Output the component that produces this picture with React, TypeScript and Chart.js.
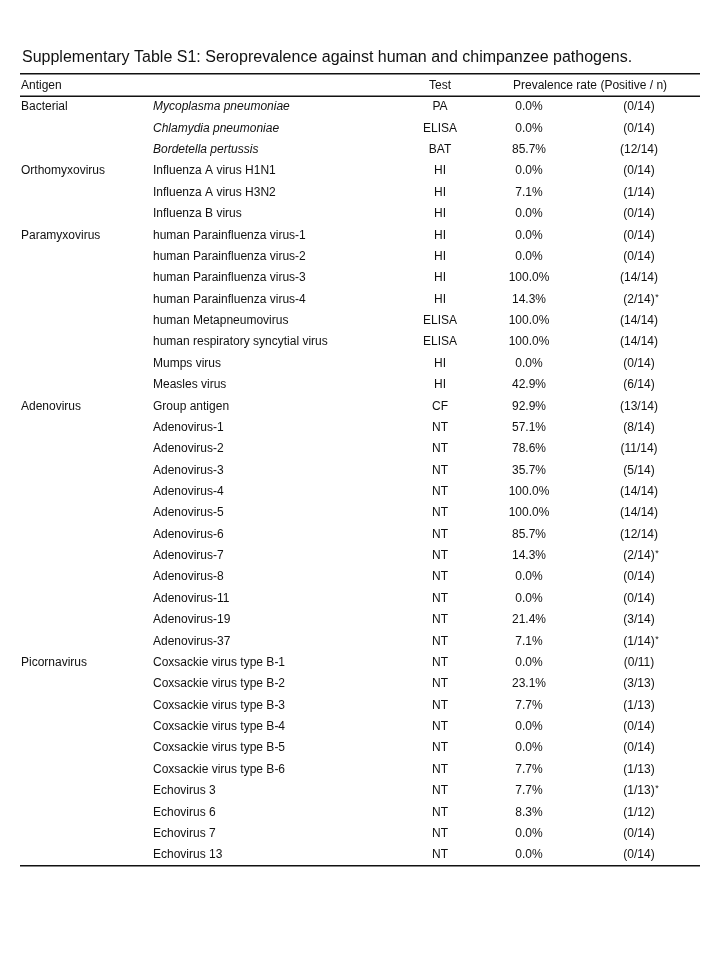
import React, { useEffect, useRef } from "react";
import { Chart, registerables } from "chart.js";

Chart.register(...registerables);

const titleText =
  "Supplementary Table S1: Seroprevalence against human and chimpanzee pathogens.";
const headerLabels = ["Antigen", "Test", "Prevalence rate (Positive / n)"];

const groups = [
  "Bacterial", "", "",
  "Orthomyxovirus", "", "",
  "Paramyxovirus", "", "", "", "", "", "", "",
  "Adenovirus", "", "", "", "", "", "", "", "", "", "", "",
  "Picornavirus", "", "", "", "", "", "", "", "", "",
];

const antigens = [
  "Mycoplasma pneumoniae",
  "Chlamydia pneumoniae",
  "Bordetella pertussis",
  "Influenza A virus H1N1",
  "Influenza A virus H3N2",
  "Influenza B virus",
  "human Parainfluenza virus-1",
  "human Parainfluenza virus-2",
  "human Parainfluenza virus-3",
  "human Parainfluenza virus-4",
  "human Metapneumovirus",
  "human respiratory syncytial virus",
  "Mumps virus",
  "Measles virus",
  "Group antigen",
  "Adenovirus-1",
  "Adenovirus-2",
  "Adenovirus-3",
  "Adenovirus-4",
  "Adenovirus-5",
  "Adenovirus-6",
  "Adenovirus-7",
  "Adenovirus-8",
  "Adenovirus-11",
  "Adenovirus-19",
  "Adenovirus-37",
  "Coxsackie virus type B-1",
  "Coxsackie virus type B-2",
  "Coxsackie virus type B-3",
  "Coxsackie virus type B-4",
  "Coxsackie virus type B-5",
  "Coxsackie virus type B-6",
  "Echovirus 3",
  "Echovirus 6",
  "Echovirus 7",
  "Echovirus 13",
];

const italicNames = [
  true, true, true,
  false, false, false, false, false, false, false, false, false, false, false,
  false, false, false, false, false, false, false, false, false, false, false, false,
  false, false, false, false, false, false, false, false, false, false,
];

const tests = [
  "PA", "ELISA", "BAT",
  "HI", "HI", "HI",
  "HI", "HI", "HI", "HI", "ELISA", "ELISA", "HI", "HI",
  "CF", "NT", "NT", "NT", "NT", "NT", "NT", "NT", "NT", "NT", "NT", "NT",
  "NT", "NT", "NT", "NT", "NT", "NT", "NT", "NT", "NT", "NT",
];

const rates = [
  0.0, 0.0, 85.7,
  0.0, 7.1, 0.0,
  0.0, 0.0, 100.0, 14.3, 100.0, 100.0, 0.0, 42.9,
  92.9, 57.1, 78.6, 35.7, 100.0, 100.0, 85.7, 14.3, 0.0, 0.0, 21.4, 7.1,
  0.0, 23.1, 7.7, 0.0, 0.0, 7.7, 7.7, 8.3, 0.0, 0.0,
];

const positives = [
  0, 0, 12,
  0, 1, 0,
  0, 0, 14, 2, 14, 14, 0, 6,
  13, 8, 11, 5, 14, 14, 12, 2, 0, 0, 3, 1,
  0, 3, 1, 0, 0, 1, 1, 1, 0, 0,
];

const totals = [
  14, 14, 14,
  14, 14, 14,
  14, 14, 14, 14, 14, 14, 14, 14,
  14, 14, 14, 14, 14, 14, 14, 14, 14, 14, 14, 14,
  11, 13, 13, 14, 14, 13, 13, 12, 14, 14,
];

const footnoteMarks = [
  false, false, false,
  false, false, false,
  false, false, false, true, false, false, false, false,
  false, false, false, false, false, false, false, true, false, false, false, true,
  false, false, false, false, false, false, true, false, false, false,
];

const FONT = "'Liberation Sans', Arial, Helvetica, sans-serif";
const TEXT_COLOR = "#111111";

// Column anchor positions (layout, in x-scale units == pixels)
const COL_GROUP = 21;
const COL_ANTIGEN = 153;
const COL_TEST = 440;
const COL_RATE = 529;
const COL_RATIO = 639;
const COL_HEAD_PREV = 513;

type ColDef = {
  x: number;
  align: CanvasTextAlign;
  text: (i: number) => string;
  italic?: (i: number) => boolean;
  mark?: (i: number) => boolean;
};

const columns: ColDef[] = [
  { x: COL_GROUP, align: "left", text: (i) => groups[i] },
  { x: COL_ANTIGEN, align: "left", text: (i) => antigens[i], italic: (i) => italicNames[i] },
  { x: COL_TEST, align: "center", text: (i) => tests[i] },
  { x: COL_RATE, align: "center", text: (i) => rates[i].toFixed(1) + "%" },
  {
    x: COL_RATIO,
    align: "center",
    text: (i) => "(" + positives[i] + "/" + totals[i] + ")",
    mark: (i) => footnoteMarks[i],
  },
];

const tablePlugin = {
  id: "tableText",
  afterDatasetsDraw(chart: any) {
    const ctx: CanvasRenderingContext2D = chart.ctx;
    const area = chart.chartArea;
    const yScale = chart.scales.y;
    const xScale = chart.scales.x;
    const rowH = yScale.getPixelForValue(1) - yScale.getPixelForValue(0);
    ctx.save();
    ctx.fillStyle = TEXT_COLOR;
    ctx.textBaseline = "middle";

    // cells
    chart.data.datasets.forEach((ds: any, di: number) => {
      const col = columns[di];
      const meta = chart.getDatasetMeta(di);
      meta.data.forEach((el: any, i: number) => {
        const txt = col.text(i);
        if (!txt) return;
        const it = col.italic ? col.italic(i) : false;
        ctx.font = (it ? "italic " : "") + "12px " + FONT;
        ctx.textAlign = col.align;
        ctx.fillText(txt, el.x, el.y);
        if (col.mark && col.mark(i)) {
          const w = ctx.measureText(txt).width;
          ctx.font = "9px " + FONT;
          ctx.textAlign = "left";
          ctx.fillText("*", el.x + w / 2 + 0.5, el.y - 2);
        }
      });
    });

    // header row
    const headY = yScale.getPixelForValue(0) - rowH;
    ctx.font = "12px " + FONT;
    ctx.textAlign = "left";
    ctx.fillText(headerLabels[0], xScale.getPixelForValue(COL_GROUP), headY);
    ctx.textAlign = "center";
    ctx.fillText(headerLabels[1], xScale.getPixelForValue(COL_TEST), headY);
    ctx.textAlign = "left";
    ctx.fillText(headerLabels[2], xScale.getPixelForValue(COL_HEAD_PREV), headY);

    // rules
    ctx.strokeStyle = "#111111";
    ctx.lineWidth = 1.5;
    const left = xScale.getPixelForValue(20);
    const right = xScale.getPixelForValue(700);
    const rules = [area.top - 22.5, area.top, area.bottom];
    rules.forEach((y) => {
      ctx.beginPath();
      ctx.moveTo(left, y);
      ctx.lineTo(right, y);
      ctx.stroke();
    });
    ctx.restore();
  },
};

export default function App() {
  const canvasRef = useRef<HTMLCanvasElement | null>(null);

  useEffect(() => {
    document.body.style.margin = "0";
    const canvas = canvasRef.current;
    if (!canvas) return;
    const chart = new Chart(canvas, {
      type: "scatter",
      data: {
        datasets: columns.map((col, di) => ({
          label: "col" + di,
          data: antigens.map((_, i) => ({ x: col.x, y: i })),
          pointRadius: 0,
          pointHoverRadius: 0,
          showLine: false,
        })),
      },
      options: {
        animation: false,
        responsive: false,
        devicePixelRatio: 1,
        layout: { padding: { top: 0, left: 22, right: 20, bottom: 94.3 } },
        scales: {
          x: { type: "linear", min: 22, max: 700, display: false },
          y: {
            type: "category",
            labels: antigens,
            offset: true,
            display: false,
          },
        },
        plugins: {
          legend: { display: false },
          tooltip: { enabled: false },
          title: {
            display: true,
            text: titleText,
            align: "start",
            color: TEXT_COLOR,
            font: { family: FONT, size: 16, weight: "normal", lineHeight: 1.2 },
            padding: { top: 48, bottom: 29.1 },
          },
        },
      },
      plugins: [tablePlugin],
    });
    return () => chart.destroy();
  }, []);

  return (
    <div style={{ position: "absolute", left: 0, top: 0, width: 720, height: 960, background: "#ffffff" }}>
      <canvas ref={canvasRef} width={720} height={960} />
    </div>
  );
}
